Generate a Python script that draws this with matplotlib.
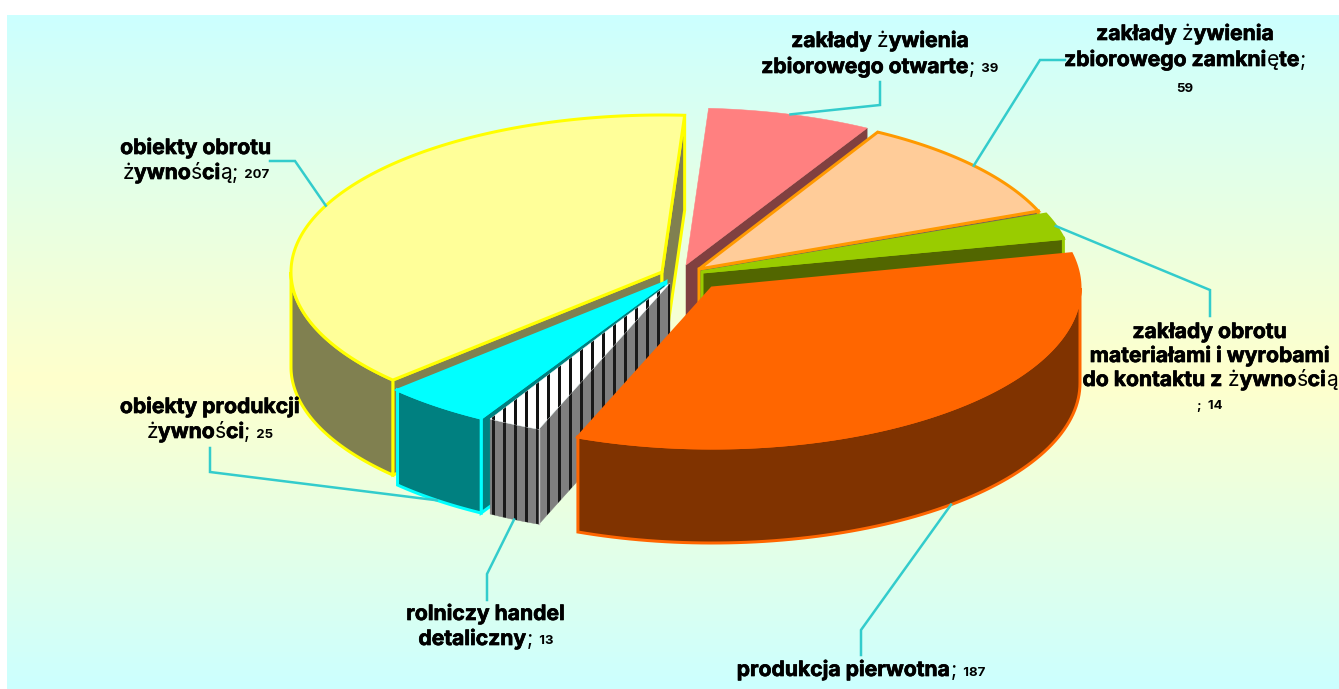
import re
import numpy as np
import matplotlib
matplotlib.use("Agg")
import matplotlib.pyplot as plt
import matplotlib.patheffects as pe
from matplotlib.font_manager import FontProperties
from matplotlib.patches import Polygon
from matplotlib.colors import LinearSegmentedColormap

# data: clockwise order
categories = ["zakłady żywienia zbiorowego otwarte", "zakłady żywienia zbiorowego zamknięte",
              "zakłady obrotu materiałami i wyrobami do kontaktu z żywnością",
              "produkcja pierwotna", "rolniczy handel detaliczny",
              "obiekty produkcji żywności", "obiekty obrotu żywnością"]
values = [39, 59, 14, 187, 13, 25, 207]
# wrapped label lines; the final piece is followed by the value in small type
label_lines = [["zakłady żywienia", "zbiorowego otwarte;"],
               ["zakłady żywienia", "zbiorowego zamknięte;", ""],
               ["zakłady obrotu", "materiałami i wyrobami", "do kontaktu z żywnością", ";"],
               ["produkcja pierwotna;"],
               ["rolniczy handel", "detaliczny;"],
               ["obiekty produkcji", "żywności;"],
               ["obiekty obrotu", "żywnością;"]]

# styles / layout (pixel canvas)
W, H = 1339, 689
start_angle = 3.5
apex = [(686, 265), (699, 269), (702, 272), (712, 288), (670, 283), (666, 282), (662, 272)]
radii = [(370, 157), (365, 157), (370, 157), (368, 160), (360, 157), (370, 157), (371, 157)]
depth = 95
top_col = ["#FF8080", "#FFCC99", "#99CC00", "#FF6600", "#FFFFFF", "#00FFFF", "#FFFF99"]
side_col = ["#804040", "#806650", "#526600", "#803300", "#808080", "#008080", "#808050"]
edge_col = [None, "#FF9900", "#99CC00", "#FF6600", None, "#00FFFF", "#FFFF00"]
draw_order = [6, 0, 1, 2, 5, 4, 3]
label_xy = [(880, 40), (1185, 33), (1210, 331), (861, 669), (486, 613), (210, 406), (196, 147)]
line_gap = [26, 26, 24, 0, 25, 25, 25]
leader_bend = [[(880, 105), (880, 82)], [(1040, 60), (1065, 60)], [(1210, 290), (1210, 316)],
               [(861, 630), (861, 655)], [(487, 574), (487, 600)], [(210, 472), (210, 448)],
               [(295, 161), (270, 161)]]
leader_on_side = [False, False, False, True, True, True, False]
LEADER = "#33CCCC"
FONT = "Inter"
MAIN_SIZE, SMALL_SIZE = 15.2, 9.5
px = 0.72

fig = plt.figure(figsize=(W / 100, H / 100), dpi=100, facecolor="white")
ax = fig.add_axes([0, 0, 1, 1])
ax.set_xlim(0, W)
ax.set_ylim(H, 0)
ax.axis("off")

# background gradient
cmap = LinearSegmentedColormap.from_list("bg", [(0, "#CCFFFF"), (0.54, "#FFFFCC"), (1, "#CCFFFF")])
ax.imshow(np.linspace(0, 1, 256).reshape(-1, 1), cmap=cmap, extent=(7, W, 689, 15), aspect="auto", zorder=0)
ax.set_xlim(0, W)
ax.set_ylim(H, 0)

frac = np.array(values) / sum(values) * 360
th0 = start_angle + np.concatenate([[0], np.cumsum(frac)[:-1]])
th1 = th0 + frac


def rim(i, th):
    t = np.radians(th)
    return np.column_stack([apex[i][0] + radii[i][0] * np.sin(t), apex[i][1] - radii[i][1] * np.cos(t)])


def add(poly, fc, ec, lw=3, z=1):
    p = Polygon(poly, closed=True, fc=fc, ec=ec if ec else fc, lw=(lw if ec else 0.5) * px,
                joinstyle="miter", zorder=z)
    ax.add_patch(p)
    return p


def stripes(patch, color, z):
    for x in np.arange(493.3, 680, 11):
        l, = ax.plot([x, x], [200, 560], color=color, lw=3 * px, zorder=z, solid_capstyle="butt")
        l.set_clip_path(patch)


z = 1
for i in draw_order:
    a = np.array(apex[i], float)
    ec = edge_col[i]
    d = np.array([0, depth])
    faces = []
    # cut faces, only those turned towards the viewer
    if 180 <= th0[i] % 360 <= 360:
        r = rim(i, np.array([th0[i]]))[0]
        faces.append(np.array([a, r, r + d, a + d]))
    if 0 <= th1[i] % 360 <= 180:
        r = rim(i, np.array([th1[i]]))[0]
        faces.append(np.array([a, r, r + d, a + d]))
    # outer wall: only the front half is visible
    lo, hi = max(th0[i], 90), min(th1[i], 270)
    if hi > lo:
        arc = rim(i, np.linspace(lo, hi, 80))
        faces.append(np.vstack([arc, arc[::-1] + d]))
    for f in faces:
        z += 1
        p = add(f, side_col[i], ec, z=z)
        if i == 4:
            z += 1
            stripes(p, "#1A1A1A", z)
    if i == 4:  # light seam between the two visible white-slice faces
        r = rim(i, np.array([th0[i]]))[0]
        z += 1
        ax.plot([r[0], r[0]], [r[1], r[1] + depth], color="#C8C8C8", lw=1, zorder=z)
    z += 1
    arc = rim(i, np.linspace(th0[i], th1[i], 200))
    p = add(np.vstack([a, arc]), top_col[i], ec, z=z)
    if i == 4:
        z += 1
        stripes(p, "#111111", z)

z += 10
# leaders start on the rim at each slice's mid angle
for i in range(len(values)):
    s = rim(i, np.array([(th0[i] + th1[i]) / 2]))[0]
    if leader_on_side[i]:
        s = s + np.array([0, depth])
    pts = np.vstack([s, leader_bend[i]])
    ax.plot(pts[:, 0], pts[:, 1], color=LEADER, lw=2.5 * px, zorder=z, solid_joinstyle="miter")

# labels: runs are laid out side by side and centred as one line
rend = fig.canvas.get_renderer()
heavy = [pe.withStroke(linewidth=0.5, foreground="black")]


def make_run(s, y, kind):
    if kind == "small":
        return ax.text(0, y - 0.5, s, fontsize=SMALL_SIZE, fontweight="bold", family=FONT, va="baseline", color="black", zorder=z + 1)
    weight = "normal" if kind == "light" else "bold"
    t = ax.text(0, y, s, fontsize=MAIN_SIZE, fontweight=weight, family=FONT, va="baseline", color="black", zorder=z + 1)
    if kind != "light":
        t.set_path_effects(heavy)
    return t


for i, lines in enumerate(label_lines):
    cx, y0 = label_xy[i]
    for k, line in enumerate(lines):
        y = y0 + k * line_gap[i] + 7
        last = k == len(lines) - 1
        runs = []
        if last and line == ";":           # a lone semicolon sits with the small value
            runs.append((";  " + str(values[i]), "small"))
        else:
            for piece in re.findall(r"[żśęą;]|[^żśęą;]+", line):
                runs.append((piece, "light" if piece in "żśęą;" else "main"))
            if last:
                runs.append((("  " if line else "") + str(values[i]), "small"))
        arts = [make_run(s, y, kind) for s, kind in runs]
        widths = []
        for s, kind in runs:
            fp = FontProperties(family=FONT, weight="normal" if kind == "light" else "bold",
                                size=SMALL_SIZE if kind == "small" else MAIN_SIZE)
            widths.append(rend.get_text_width_height_descent(s, fp, False)[0])
        x = cx - sum(widths) / 2
        for t, w in zip(arts, widths):
            t.set_x(x)
            x += w

fig.savefig("out.png", dpi=100, facecolor="white")
